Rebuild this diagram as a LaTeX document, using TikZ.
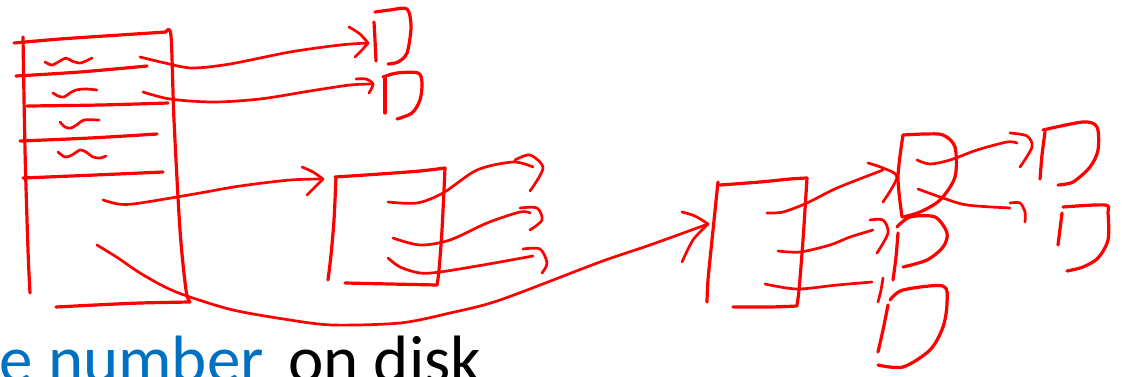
\documentclass[tikz,border=0pt]{standalone}
\usepackage{fontspec}
\setmainfont{Carlito}
\usepackage{xcolor}
\definecolor{ink}{HTML}{FF0000}
\definecolor{office}{HTML}{0070C0}

\begin{document}
\begin{tikzpicture}[x=1pt,y=-1pt,
  pen/.style={draw=ink,line width=3.2pt,line cap=round,line join=round},
  ptr/.style={pen,line width=2.7pt},
  caption/.style={inner sep=0pt,font=\fontsize{67}{70}\selectfont},
]
  \useasboundingbox (0,0) rectangle (1127,376);

  % inode
  \draw[pen] plot[smooth] coordinates {(14,43) (60,39) (120,35) (166,32)};
  \draw[pen] plot[smooth] coordinates {(166,32) (171,36) (174,120) (180,230) (186,290) (190,302)};
  \draw[pen] plot[smooth] coordinates {(56,307) (95,305) (140,303) (190,302)};
  \draw[pen] plot[smooth] coordinates {(23,37) (25,150) (28,250) (30,293)};
  \draw[pen] plot[smooth] coordinates {(16,76) (80,72) (147,66)};
  \draw[pen] plot[smooth] coordinates {(27,106) (100,105) (168,103)};
  \draw[pen] plot[smooth] coordinates {(20,141) (90,138) (157,134)};
  \draw[pen] plot[smooth] coordinates {(23,178) (95,175) (163,172)};
  \draw[ptr] plot[smooth] coordinates {(45,62) (52,65) (60,61) (66,58) (72,61) (80,63) (88,60) (92,58)};
  \draw[ptr] plot[smooth] coordinates {(53,93) (58,96) (64,97) (70,93) (76,90) (86,89) (97,90)};
  \draw[ptr] plot[smooth] coordinates {(60,122) (65,127) (71,128) (78,124) (84,120) (99,120)};
  \draw[ptr] plot[smooth] coordinates {(58,152) (65,157) (72,155) (80,150) (86,152) (93,157) (100,158) (106,156)};

  % direct blocks
  \draw[pen] plot[smooth] coordinates {(374,22) (375,40) (376,61)};
  \draw[pen] plot[smooth] coordinates {(375,12) (390,10) (407,9) (411,27) (407,53) (398,62) (388,64)};
  \draw[pen] plot[smooth] coordinates {(385,78) (385,95) (385,113)};
  \draw[pen] plot[smooth] coordinates {(383,77) (397,73) (418,73) (422,83) (420,100) (412,113) (397,119)};

  \coordinate (d1) at (140,57);   \coordinate (t1) at (368,43);
  \coordinate (d2) at (143,92);   \coordinate (t2) at (373,84);
  \coordinate (s1) at (103,200);  \coordinate (t3) at (323,179);
  \coordinate (s2) at (97,245);   \coordinate (t4) at (708,224);

  \draw[ptr] plot[smooth] coordinates {(d1) (165,63) (192,68) (230,64) (290,52) (340,45) (t1)};
  \draw[ptr] plot[smooth] coordinates {(349,27) (360,34) (t1)};
  \draw[ptr] plot[smooth] coordinates {(t1) (362,50) (355,57)};
  \draw[ptr] plot[smooth] coordinates {(d2) (170,99) (213,102) (260,99) (310,91) (350,85) (t2)};
  \draw[ptr] plot[smooth] coordinates {(356,79) (366,79) (t2) (369,93)};

  % single indirect
  \draw[ptr] plot[smooth] coordinates {(s1) (118,204) (133,204) (165,199) (200,193) (240,186) (290,180) (t3)};
  \draw[ptr] plot[smooth] coordinates {(302,167) (313,172) (t3)};
  \draw[ptr] plot[smooth] coordinates {(t3) (315,187) (307,195)};
  \draw[pen] plot[smooth] coordinates {(335,177) (380,174) (420,171) (445,168)};
  \draw[pen] plot[smooth] coordinates {(445,168) (442,230) (439,270) (437,285)};
  \draw[pen] plot[smooth] coordinates {(345,283) (390,284) (437,285)};
  \draw[pen] plot[smooth] coordinates {(336,177) (334,220) (331,255) (328,280)};
  \draw[ptr] plot[smooth] coordinates {(388,202) (417,203) (443,193) (477,170) (513,162) (533,167)};
  \draw[ptr] plot[smooth] coordinates {(515,160) (530,155) (543,168) (530,191)};
  \draw[ptr] plot[smooth] coordinates {(393,238) (420,245) (450,240) (487,223) (520,212) (530,213)};
  \draw[ptr] plot[smooth] coordinates {(520,208) (537,208) (542,220) (530,230)};
  \draw[ptr] plot[smooth] coordinates {(388,258) (400,267) (420,273) (440,272) (483,265) (533,256)};
  \draw[ptr] plot[smooth] coordinates {(523,249) (540,249) (547,263) (542,273)};

  % double indirect
  \draw[ptr] plot[smooth] coordinates {(s2) (118,258) (140,273) (165,287) (187,296) (233,310) (290,320) (333,325) (400,323) (450,313) (500,300) (600,262) (650,245) (t4)};
  \draw[ptr] plot[smooth] coordinates {(682,212) (695,216) (t4)};
  \draw[ptr] plot[smooth] coordinates {(t4) (693,240) (682,262)};
  \draw[pen] plot[smooth] coordinates {(720,185) (760,182) (790,179) (807,178)};
  \draw[pen] plot[smooth] coordinates {(807,178) (803,240) (799,290) (797,305)};
  \draw[pen] plot[smooth] coordinates {(733,307) (770,307) (797,306)};
  \draw[pen] plot[smooth] coordinates {(718,182) (712,240) (708,280) (707,302)};
  \draw[ptr] plot[smooth] coordinates {(767,213) (783,212) (807,203) (837,188) (883,170)};
  \draw[ptr] plot[smooth] coordinates {(868,163) (883,168) (897,177) (883,202)};
  \draw[ptr] plot[smooth] coordinates {(778,251) (800,252) (830,245) (850,237) (873,230)};
  \draw[ptr] plot[smooth] coordinates {(870,220) (883,220) (888,233) (877,253)};
  \draw[ptr] plot[smooth] coordinates {(765,284) (797,289) (837,285) (872,282)};
  \draw[ptr] plot[smooth] coordinates {(883,278) (881,290) (878,302)};

  % second level
  \draw[pen] plot[smooth] coordinates {(903,135) (898,177) (902,217)};
  \draw[pen] plot[smooth] coordinates {(903,135) (925,134) (943,135) (955,147) (955,177) (940,200) (920,212) (903,217)};
  \draw[pen] plot[smooth] coordinates {(898,233) (896,257) (893,280)};
  \draw[pen] plot[smooth] coordinates {(897,227) (910,217) (935,217) (947,233) (943,247) (927,260) (903,267)};
  \draw[pen] plot[smooth] coordinates {(888,305) (883,330) (878,352)};
  \draw[pen] plot[smooth] coordinates {(890,300) (903,290) (943,286) (947,303) (943,327) (930,350) (903,367) (878,365)};
  \draw[ptr] plot[smooth] coordinates {(917,160) (930,164) (950,160) (977,150) (1007,142) (1017,143)};
  \draw[ptr] plot[smooth] coordinates {(1010,133) (1027,136) (1032,147) (1020,167)};
  \draw[ptr] plot[smooth] coordinates {(918,189) (943,198) (967,205) (1010,208)};
  \draw[ptr] plot[smooth] coordinates {(1010,203) (1020,203) (1025,212) (1025,222)};

  % data blocks
  \draw[pen] plot[smooth] coordinates {(1045,132) (1042,155) (1040,179)};
  \draw[pen] plot[smooth] coordinates {(1043,130) (1083,122) (1097,127) (1098,150) (1090,167) (1073,182) (1058,185)};
  \draw[pen] plot[smooth] coordinates {(1062,213) (1060,229) (1058,245)};
  \draw[pen] plot[smooth] coordinates {(1063,207) (1105,205) (1108,213) (1108,240) (1098,258) (1083,267) (1067,271)};

  % caption
  \node[caption,anchor=base east,text=office] (num) at (264,382) {e number};
  \node[caption,anchor=base west] (disk) at (288,382) {on disk};
\end{tikzpicture}
\end{document}
